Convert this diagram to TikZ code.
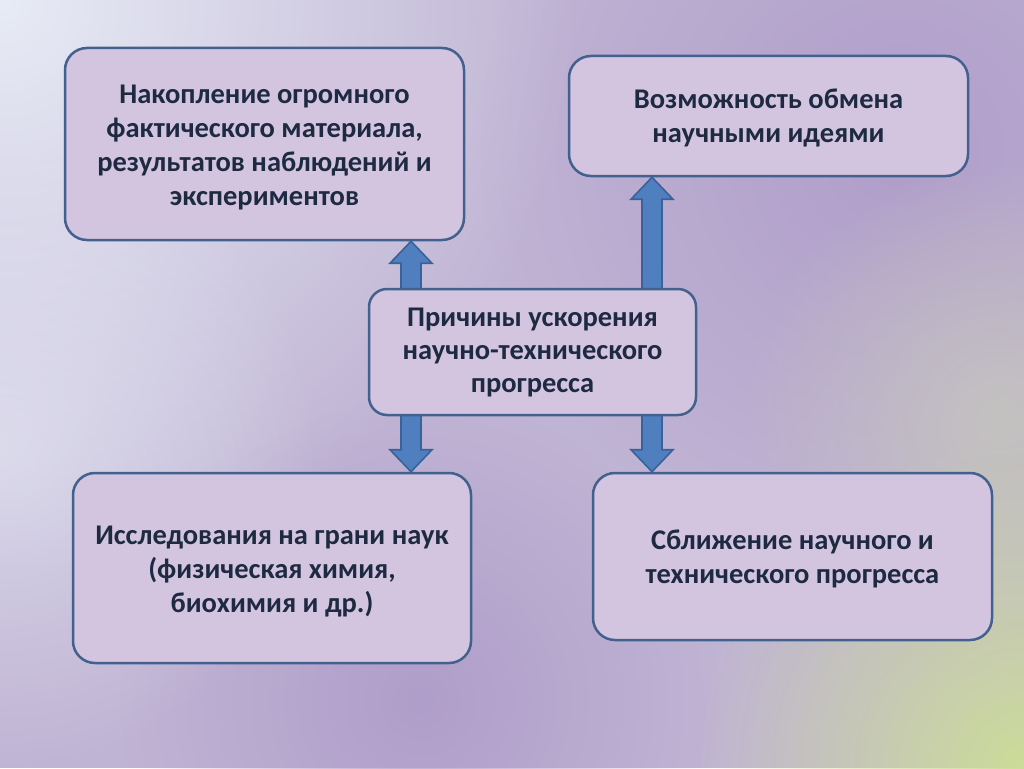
\documentclass[tikz,border=0pt]{standalone}
\usepackage{fontspec}
\setmainfont{Carlito}
\usetikzlibrary{calc,fadings}
\definecolor{bgbase}{HTML}{C0B4D4}
\definecolor{bgpurple}{HTML}{B09ECA}
\definecolor{bglight}{HTML}{E8ECF6}
\definecolor{bggreen}{HTML}{CCDC98}
\definecolor{bggray}{HTML}{C4C2C0}
\definecolor{boxfill}{HTML}{D3C5DF}
\definecolor{boxline}{HTML}{43618F}
\definecolor{txt}{HTML}{1E2A42}
\definecolor{arrfill}{HTML}{4F7FBF}
\definecolor{arrline}{HTML}{3A6298}
\tikzfading[name=softglow, inner color=transparent!0, outer color=transparent!100]
\tikzset{
  box/.style={draw=boxline, line width=2.5pt, fill=boxfill, rounded corners=22pt,
    align=center, text=txt, font=\fontsize{28.5}{34}\selectfont\bfseries, inner sep=0pt},
  barrow/.style={draw=arrline, fill=arrfill, line width=1.6pt, line join=miter}
}
\newcommand\boxtext[2][6pt]{\parbox{390pt}{\centering\vspace*{#1}#2}}
\newcommand\blockarrow[3]{%
  \draw[barrow] ($(#1)+(-10,0)$) -- ($(#2)+(-10,#3*22)$) -- ($(#2)+(-21,#3*22)$) -- (#2)
    -- ($(#2)+(21,#3*22)$) -- ($(#2)+(10,#3*22)$) -- ($(#1)+(10,0)$) -- cycle;}
\begin{document}
\begin{tikzpicture}[x=1pt,y=-1pt]
\useasboundingbox (0,0) rectangle (1024,768);
% background
\fill[bgbase] (0,0) rectangle (1024,768);
\fill[bgpurple, path fading=softglow] (900,150) circle (420);
\fill[bgpurple, path fading=softglow] (420,700) circle (300);
\fill[bggray, path fading=softglow] (1000,420) circle (260);
\fill[bglight, path fading=softglow] (0,0) circle (580);
\fill[bglight, opacity=0.6, path fading=softglow] (0,450) circle (320);
\fill[bggreen, path fading=softglow] (1024,768) circle (330);
% boxes
\node[box, minimum width=399pt, minimum height=192pt] (n1) at (264.5,144)
  {\boxtext{Накопление огромного\\фактического материала,\\результатов наблюдений и\\экспериментов}};
\node[box, minimum width=399pt, minimum height=120pt] (n2) at (768.5,116)
  {\boxtext[4pt]{Возможность обмена\\научными идеями}};
\node[box, minimum width=398pt, minimum height=190pt] (n4) at (272,568)
  {\boxtext[8pt]{Исследования на грани наук\\(физическая химия,\\биохимия и др.)}};
\node[box, minimum width=399pt, minimum height=167pt] (n5) at (792.5,556.5)
  {\boxtext[4pt]{Сближение научного и\\технического прогресса}};
\coordinate (xa) at (411,0);
\coordinate (xb) at (652,0);
\coordinate (c1) at (532.5,352);
% arrows
\path (c1) ++(0,-60) coordinate (ctop) ++(0,120) coordinate (cbot);
\blockarrow{ctop -| xa}{n1.south -| xa}{1}
\blockarrow{ctop -| xb}{n2.south -| xb}{1}
\blockarrow{cbot -| xa}{n4.north -| xa}{-1}
\blockarrow{cbot -| xb}{n5.north -| xb}{-1}
\node[box, rounded corners=18pt, minimum width=327pt, minimum height=126pt,
  font=\fontsize{28.5}{33}\selectfont\bfseries] (c) at (c1)
  {Причины ускорения\\научно-технического\\прогресса};
\end{tikzpicture}
\end{document}
